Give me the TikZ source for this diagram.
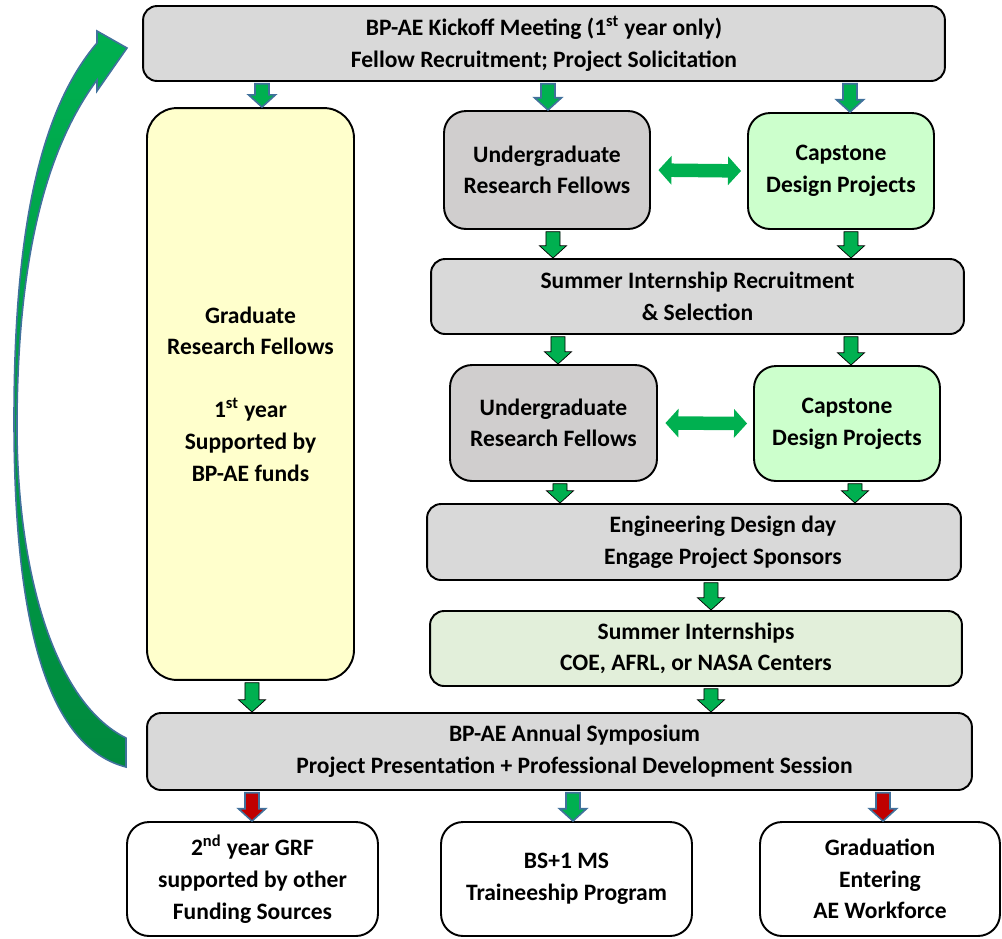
\documentclass[tikz,border=0pt]{standalone}
\usepackage{fontspec}
\setmainfont{Carlito}
\usetikzlibrary{arrows.meta,calc}

\definecolor{boxgray}{HTML}{D9D9D9}
\definecolor{uggray}{HTML}{D0CECE}
\definecolor{grfyellow}{HTML}{FFFFCC}
\definecolor{capgreen}{HTML}{CCFFCC}
\definecolor{interngreen}{HTML}{E2EFDA}
\definecolor{arrgreen}{HTML}{00B050}
\definecolor{arrdark}{HTML}{008A3E}
\definecolor{arrblue}{HTML}{41719C}
\definecolor{arrred}{HTML}{C00000}

\tikzset{
  box/.style={draw=black, line width=1.1pt, rounded corners=0.28cm, align=center,
    inner sep=0pt, font=\fontsize{13.4}{18}\selectfont\bfseries},
  wide/.style={box, fill=boxgray, minimum height=1.5cm},
  varrow/.style={fill=arrgreen},
  outarrow/.style={fill=arrgreen, draw=arrblue, line width=0.9pt},
  redarrow/.style={outarrow, fill=arrred},
  dblarrow/.style={draw=arrgreen, line width=0.27cm,
    {Triangle[width=0.56cm,length=0.26cm]}-{Triangle[width=0.56cm,length=0.26cm]},
    shorten <=0.15cm, shorten >=0.12cm}
}

% block arrow pointing down, from #2 to #3
\newcommand\varr[3][varrow]{%
  \draw[#1] let \p1=#2, \p2=#3 in
    (\x1-4pt,\y1-1pt) -- (\x1+4pt,\y1-1pt) -- (\x1+4pt,\y2+7pt) -- (\x1+7.7pt,\y2+7pt)
    -- (\x1,\y2) -- (\x1-7.7pt,\y2+7pt) -- (\x1-4pt,\y2+7pt) -- cycle;}

\begin{document}
\begin{tikzpicture}[x=0.02cm, y=-0.02cm]
  \useasboundingbox (0,0) rectangle (1002,938);

  \node[wide, minimum width=16.04cm] (kick) at (544,43.5)
    {BP-AE Kickoff Meeting (1\textsuperscript{st} year only)\\Fellow Recruitment; Project Solicitation};
  \node[box, fill=grfyellow, rounded corners=0.6cm, minimum width=4.14cm, minimum height=11.44cm] (grf) at (250.5,394)
    {Graduate\\Research Fellows\\[18pt]1\textsuperscript{st} year\\Supported by\\BP-AE funds};

  \node[box, fill=uggray, rounded corners=0.44cm, minimum width=4.12cm, minimum height=2.36cm] (ugA) at (547,170)
    {Undergraduate\\Research Fellows};
  \node[box, fill=capgreen, rounded corners=0.44cm, minimum width=3.72cm, minimum height=2.32cm] (capA) at (841,171)
    {Capstone\\Design Projects};
  \node[wide, minimum width=10.66cm] (recr) at (697.5,296.5)
    {Summer Internship Recruitment\\\& Selection};
  \node[box, fill=uggray, rounded corners=0.44cm, minimum width=4.14cm, minimum height=2.32cm] (ugB) at (553.5,423)
    {Undergraduate\\Research Fellows};
  \node[box, fill=capgreen, rounded corners=0.44cm, minimum width=3.72cm, minimum height=2.3cm] (capB) at (847,423.5)
    {Capstone\\Design Projects};
  \node[wide, minimum width=10.68cm, minimum height=1.52cm,
    label={[align=center, xshift=0.58cm, font=\fontsize{13.4}{18}\selectfont\bfseries]center:Engineering Design day\\Engage Project Sponsors}]
    (edd) at (694,542) {};
  \node[wide, fill=interngreen, minimum width=10.64cm] (intern) at (696,648.5)
    {Summer Internships\\COE, AFRL, or NASA Centers};
  \node[wide, minimum width=16.5cm, minimum height=1.54cm,
    label={[align=center, xshift=0.3cm, font=\fontsize{13.4}{18}\selectfont\bfseries]center:BP-AE Annual Symposium\\Project Presentation + Professional Development Session}]
    (symp) at (559.5,751.5) {};

  \node[box, fill=white, rounded corners=0.44cm, minimum width=5.02cm, minimum height=2.28cm] (grfB) at (252.5,879)
    {2\textsuperscript{nd} year GRF\\supported by other\\Funding Sources};
  \node[box, fill=white, rounded corners=0.44cm, minimum width=5.02cm, minimum height=2.28cm] (bsms) at (566.5,879)
    {BS+1 MS\\Traineeship Program};
  \node[box, fill=white, rounded corners=0.44cm, minimum width=4.8cm, minimum height=2.28cm] (grad) at (880,879)
    {Graduation\\Entering\\AE Workforce};

  % arrows out of the kickoff
  \varr[outarrow]{(262,0 |- kick.south)}{(262,0 |- grf.north)}
  \varr[outarrow]{(548,0 |- kick.south)}{(548,0 |- ugA.north)}
  \varr[outarrow]{(850,0 |- kick.south)}{(850,0 |- capA.north)}
  % undergraduate track
  \draw[dblarrow] (ugA.east) -- (capA.west);
  \varr{(553,0 |- ugA.south)}{(553,0 |- recr.north)}
  \varr{(851,0 |- capA.south)}{(851,0 |- recr.north)}
  \varr{(558,0 |- recr.south)}{(558,0 |- ugB.north)}
  \varr{(851,0 |- recr.south)}{(851,0 |- capB.north)}
  \draw[dblarrow] (ugB.east) -- (capB.west);
  \varr{(560,0 |- ugB.south)}{(560,0 |- edd.north)}
  \varr{(855,0 |- capB.south)}{(855,0 |- edd.north)}
  \varr{(711,0 |- edd.south)}{(711,0 |- intern.north)}
  \varr{(711,0 |- intern.south)}{(711,0 |- symp.north)}
  \varr{(252,0 |- grf.south)}{(252,0 |- symp.north)}
  % outcomes
  \varr[redarrow]{(252,0 |- symp.south)}{(252,0 |- grfB.north)}
  \varr[outarrow]{(573,0 |- symp.south)}{(573,0 |- bsms.north)}
  \varr[redarrow]{(883,0 |- symp.south)}{(883,0 |- grad.north)}

  % loop back to the kickoff
  \draw[top color=arrgreen, bottom color=arrdark, draw=arrblue, line width=0.9pt]
    (126,767) .. controls (40,745) and (14,600) .. (14,420)
    .. controls (14,230) and (40,110) .. (97,43)
    -- (97,31) -- (127,48) -- (97,91) -- (97,80)
    .. controls (45,150) and (18,260) .. (17,420)
    .. controls (16,560) and (50,700) .. (126,738) -- cycle;
\end{tikzpicture}
\end{document}
